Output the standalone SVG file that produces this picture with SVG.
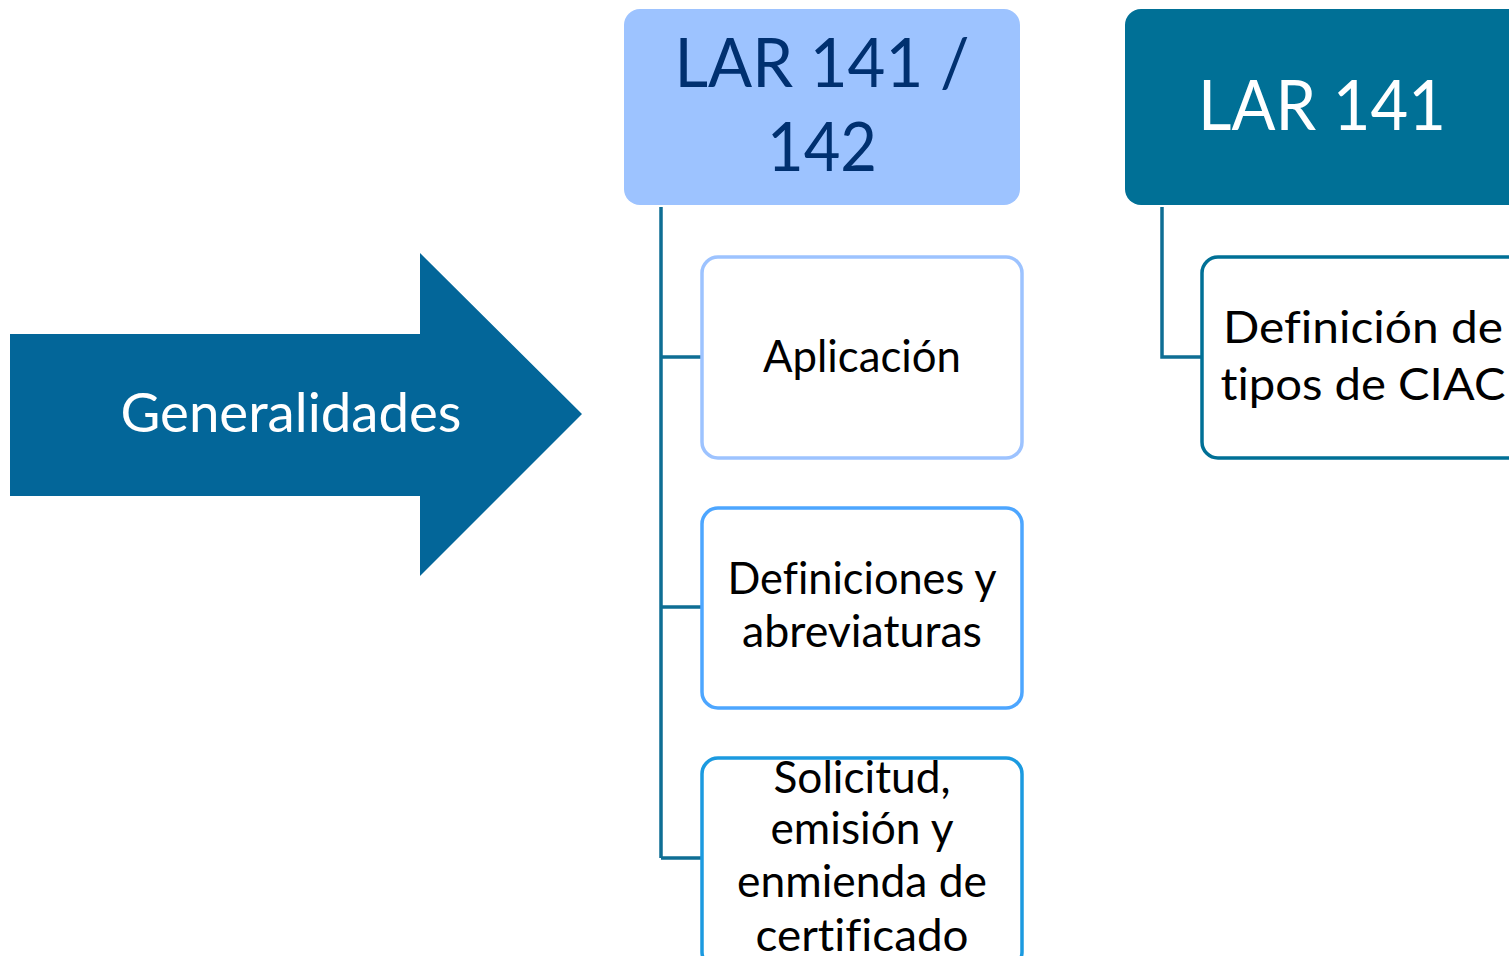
<svg xmlns="http://www.w3.org/2000/svg" width="1509" height="956" viewBox="0 0 1509 956">
<style>
text{font-family:Lato,"Open Sans","Liberation Sans",sans-serif;text-anchor:middle;font-variant-ligatures:none;font-feature-settings:"liga" 0}
.child{fill:#ffffff;stroke-width:3.5}
.ct{font-size:45px;fill:#000000}
.conn{fill:none;stroke:#0E6E94;stroke-width:3.5}
</style>
<rect width="1509" height="956" fill="#ffffff"/>
<g id="generalidades">
<polygon points="10,334 420,334 420,253 582,414 420,576 420,496 10,496" fill="#036699"/>
<text x="291" y="432" font-size="55" fill="#ffffff" textLength="341" lengthAdjust="spacingAndGlyphs">Generalidades</text>
</g>
<g id="connectors">
<path class="conn" d="M661,207 V858 M661,357 H702 M661,607 H702 M661,858 H702"/>
<path class="conn" d="M1162,207 V357 H1202"/>
</g>
<g id="lar141-142">
<rect x="624" y="9" width="396" height="196" rx="16" fill="#9DC3FF"/>
<text x="822" y="87" font-size="68" fill="#003070" textLength="295" lengthAdjust="spacingAndGlyphs">LAR 141 /</text>
<text x="822" y="171" font-size="68" fill="#003070" textLength="110" lengthAdjust="spacingAndGlyphs">142</text>
</g>
<g id="lar141">
<rect x="1125" y="9" width="420" height="196" rx="16" fill="#007096"/>
<text x="1322" y="130" font-size="69" fill="#ffffff" textLength="248" lengthAdjust="spacingAndGlyphs">LAR 141</text>
</g>
<g id="aplicacion">
<rect class="child" x="702" y="257" width="320" height="201" rx="16" stroke="#9DC3FF"/>
<text class="ct" x="862" y="372" textLength="198" lengthAdjust="spacingAndGlyphs">Aplicación</text>
</g>
<g id="definiciones">
<rect class="child" x="702" y="508" width="320" height="200" rx="16" stroke="#4DA6FF"/>
<text class="ct" x="862" y="594" textLength="269" lengthAdjust="spacingAndGlyphs">Definiciones y</text>
<text class="ct" x="862" y="647" textLength="240" lengthAdjust="spacingAndGlyphs">abreviaturas</text>
</g>
<g id="solicitud">
<rect class="child" x="702" y="758" width="320" height="210" rx="16" stroke="#1B9AE0"/>
<text class="ct" x="862" y="793" textLength="177" lengthAdjust="spacingAndGlyphs">Solicitud,</text>
<text class="ct" x="862" y="844" textLength="183" lengthAdjust="spacingAndGlyphs">emisión y</text>
<text class="ct" x="862" y="897" textLength="250" lengthAdjust="spacingAndGlyphs">enmienda de</text>
<text class="ct" x="862" y="951" textLength="213" lengthAdjust="spacingAndGlyphs">certificado</text>
</g>
<g id="definicion-tipos">
<rect class="child" x="1202" y="257" width="330" height="201" rx="16" stroke="#007096"/>
<text class="ct" x="1363" y="343" textLength="280" lengthAdjust="spacingAndGlyphs">Definición de</text>
<text class="ct" x="1363" y="400" textLength="285" lengthAdjust="spacingAndGlyphs">tipos de CIAC</text>
</g>
</svg>
